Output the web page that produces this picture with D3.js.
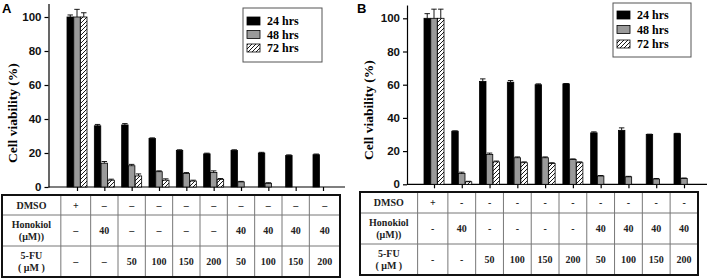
<!DOCTYPE html>
<html>
<head>
<meta charset="utf-8">
<script src="https://cdn.jsdelivr.net/npm/d3@7/dist/d3.min.js"></script>
<style>
  html, body { margin: 0; padding: 0; background: #fff; }
  svg { display: block; }
</style>
</head>
<body>
<svg id="chart" width="709" height="279"></svg>
<script>
// ---------------- DATA ----------------
const categories = ["DMSO", "Hon 40", "5-FU 50", "5-FU 100", "5-FU 150", "5-FU 200",
                    "Hon+5-FU 50", "Hon+5-FU 100", "Hon+5-FU 150", "Hon+5-FU 200"];
const seriesNames = ["24 hrs", "48 hrs", "72 hrs"];
const yTicks = [0, 20, 40, 60, 80, 100];

// Panel A
const a24 = [100, 36, 36.5, 28.5, 21.5, 19.5, 21.5, 20, 18.5, 19];
const a48 = [100, 14, 12.5, 9, 8, 8.5, 3, 2.2, 0, 0];
const a72 = [100, 4, 6.5, 4, 3.5, 4.5, 0, 0, 0, 0];
const aErr24 = [1.2, 0.8, 0.8, 0.4, 0.4, 0.4, 0.4, 0.4, 0.4, 0.4];
const aErr48 = [4.5, 1, 0.8, 0.5, 0.5, 1, 0.3, 0.3, 0, 0];
const aErr72 = [2.5, 0.6, 1.2, 0.8, 0.5, 0.5, 0, 0, 0, 0];

// Panel B
const b24 = [100, 32, 62, 61.5, 60, 60.5, 31, 32.5, 30, 30.5];
const b48 = [100, 6.5, 18, 16, 16, 15, 5, 4.5, 3.2, 3.5];
const b72 = [100, 1.5, 13.5, 13, 12.5, 13, 0, 0, 0, 0];
const bErr24 = [2.8, 0.2, 1.5, 1, 0.5, 0.2, 0.6, 1.5, 0.2, 0.2];
const bErr48 = [5.5, 0.8, 0.8, 0.5, 0.5, 0.3, 0.3, 0.3, 0.3, 0.3];
const bErr72 = [5.5, 0.3, 0.5, 0.5, 0.5, 0.5, 0, 0, 0, 0];

// Table rows
const rowLabels = [["DMSO"], ["Honokiol", "(μM))"], ["5-FU", "( μM )"]];
const dmsoA = ["+", "–", "–", "–", "–", "–", "–", "–", "–", "–"];
const honA  = ["–", "40", "–", "–", "–", "–", "40", "40", "40", "40"];
const fuA   = ["–", "–", "50", "100", "150", "200", "50", "100", "150", "200"];
const dmsoB = ["+", "-", "-", "-", "-", "-", "-", "-", "-", "-"];
const honB  = ["-", "40", "-", "-", "-", "-", "40", "40", "40", "40"];
const fuB   = ["-", "-", "50", "100", "150", "200", "50", "100", "150", "200"];

// ---------------- DRAWING ----------------
const svg = d3.select("#chart");
const SERIF = "'Liberation Serif', 'Times New Roman', serif";
const SANS = "'Liberation Sans', Arial, sans-serif";

const defs = svg.append("defs");
const pat = defs.append("pattern")
  .attr("id", "hatch").attr("patternUnits", "userSpaceOnUse")
  .attr("width", 4).attr("height", 4);
pat.append("rect").attr("width", 4).attr("height", 4).attr("fill", "#fff");
pat.append("path").attr("d", "M-1,1 l2,-2 M0,4 l4,-4 M3,5 l2,-2")
  .attr("stroke", "#000").attr("stroke-width", 0.9);

const fills = ["#000", "#9a9a9a", "url(#hatch)"];

function drawPanel(cfg) {
  const g = svg.append("g");
  const y = d3.scaleLinear().domain([0, 108]).range([cfg.y0, cfg.y0 - 108 * cfg.pxPerUnit]);
  const x = d3.scalePoint().domain(categories).range([cfg.xFirst, cfg.xLast]);
  const sub = d3.scaleBand().domain(seriesNames).range([-cfg.groupW / 2, cfg.groupW / 2]).paddingInner(0.05);

  // panel letter
  g.append("text").attr("x", cfg.letterX).attr("y", 13)
    .attr("font-family", SANS).attr("font-weight", "bold").attr("font-size", 13)
    .text(cfg.letter);

  // y axis
  const ya = g.append("g").attr("transform", `translate(${cfg.axisX},0)`)
    .call(d3.axisLeft(y).tickValues(yTicks).tickSize(4).tickSizeOuter(0).tickPadding(3));
  ya.select(".domain").attr("stroke", "#000").attr("stroke-width", 1.2);
  ya.selectAll(".tick line").attr("stroke", "#000").attr("stroke-width", 1.2);
  ya.selectAll(".tick text").attr("font-family", SANS).attr("font-weight", "bold")
    .attr("font-size", 11.5).attr("fill", "#111");

  // y label
  g.append("text")
    .attr("transform", `translate(${cfg.labelX},${cfg.labelY}) rotate(-90)`)
    .attr("text-anchor", "middle")
    .attr("font-family", SERIF).attr("font-weight", "bold").attr("font-size", 13.5)
    .text("Cell viability (%)");

  // x axis
  const xa = g.append("g").attr("transform", `translate(0,${cfg.y0})`)
    .call(d3.axisBottom(x).tickSize(4).tickSizeOuter(0).tickFormat(""));
  xa.select(".domain").remove();
  xa.selectAll(".tick line").attr("stroke", "#000").attr("stroke-width", 1.2);
  g.append("line").attr("x1", cfg.axisX).attr("x2", cfg.axisEnd)
    .attr("y1", cfg.y0).attr("y2", cfg.y0).attr("stroke", "#000").attr("stroke-width", 1.2);

  // bars
  cfg.values.forEach((vals, si) => {
    const sname = seriesNames[si];
    const errs = cfg.errors[si];
    const bg = g.append("g");
    categories.forEach((c, i) => {
      const v = vals[i];
      if (v <= 0) return;
      const bx = x(c) + sub(sname);
      const bw = sub.bandwidth();
      bg.append("rect")
        .attr("x", bx).attr("y", y(v))
        .attr("width", bw).attr("height", y(0) - y(v))
        .attr("fill", fills[si]).attr("stroke", "#000").attr("stroke-width", 0.8);
      const e = errs[i];
      if (e > 0) {
        const cx = bx + bw / 2;
        bg.append("line").attr("x1", cx).attr("x2", cx)
          .attr("y1", y(v)).attr("y2", y(v + e)).attr("stroke", "#000").attr("stroke-width", 0.9);
        bg.append("line").attr("x1", cx - bw / 2 + 0.5).attr("x2", cx + bw / 2 - 0.5)
          .attr("y1", y(v + e)).attr("y2", y(v + e)).attr("stroke", "#000").attr("stroke-width", 0.9);
      }
    });
  });

  // legend
  const L = cfg.legend;
  g.append("rect").attr("x", L.x).attr("y", L.y).attr("width", L.w).attr("height", L.h)
    .attr("fill", "#fff").attr("stroke", "#555").attr("stroke-width", 1);
  seriesNames.forEach((s, i) => {
    const ry = L.y + L.firstRow + i * L.rowGap;
    g.append("rect").attr("x", L.x + 4).attr("y", ry - 4).attr("width", 13).attr("height", 8)
      .attr("fill", fills[i]).attr("stroke", "#000").attr("stroke-width", 0.8);
    g.append("text").attr("x", L.x + 24).attr("y", ry + 4)
      .attr("font-family", SERIF).attr("font-weight", "bold").attr("font-size", 12)
      .text(s);
  });

  // table
  const T = cfg.table;
  const step = x.step();
  const colEdges = [T.left, cfg.xFirst - step / 2 - T.firstExtra];
  categories.forEach((c, i) => {
    if (i < categories.length - 1) colEdges.push(x(c) + step / 2);
  });
  colEdges.push(T.right);
  const tg = g.append("g");
  // inner horizontal lines
  T.rows.slice(1, -1).forEach(ry => {
    tg.append("line").attr("x1", T.left).attr("x2", T.right).attr("y1", ry).attr("y2", ry)
      .attr("stroke", "#777").attr("stroke-width", 1);
  });
  colEdges.slice(1, -1).forEach(cx => {
    tg.append("line").attr("x1", cx).attr("x2", cx).attr("y1", T.rows[0]).attr("y2", T.rows[T.rows.length - 1])
      .attr("stroke", "#777").attr("stroke-width", 1);
  });
  tg.append("rect").attr("x", T.left).attr("y", T.rows[0])
    .attr("width", T.right - T.left).attr("height", T.rows[T.rows.length - 1] - T.rows[0])
    .attr("fill", "none").attr("stroke", "#111").attr("stroke-width", 2);

  const rowsData = cfg.tableRows;
  rowLabels.forEach((lines, r) => {
    const top = T.rows[r], bot = T.rows[r + 1];
    const mid = (top + bot) / 2;
    const hx = (colEdges[0] + colEdges[1]) / 2;
    lines.forEach((ln, k) => {
      const off = lines.length === 1 ? 0 : (k === 0 ? -6 : 6);
      tg.append("text").attr("x", hx).attr("y", mid + off + 3.5)
        .attr("text-anchor", "middle")
        .attr("font-family", SERIF).attr("font-weight", "bold").attr("font-size", 10)
        .attr("fill", "#222").text(ln);
    });
    rowsData[r].forEach((v, i) => {
      const cx = (colEdges[i + 1] + colEdges[i + 2]) / 2;
      tg.append("text").attr("x", cx).attr("y", mid + 3.5)
        .attr("text-anchor", "middle")
        .attr("font-family", SERIF).attr("font-weight", "bold").attr("font-size", 10)
        .attr("fill", "#222").text(v);
    });
  });
}

drawPanel({
  letter: "A", letterX: 2,
  axisX: 48.5, axisEnd: 345, y0: 187, pxPerUnit: 1.7,
  xFirst: 77, xLast: 323, groupW: 20,
  labelX: 17, labelY: 113,
  values: [a24, a48, a72], errors: [aErr24, aErr48, aErr72],
  legend: { x: 243, y: 8, w: 79, h: 54, firstRow: 13, rowGap: 13.5 },
  table: { left: 2, right: 340, rows: [195, 215, 246, 277], firstExtra: 2.5 },
  tableRows: [dmsoA, honA, fuA]
});

drawPanel({
  letter: "B", letterX: 357,
  axisX: 407, axisEnd: 707, y0: 184.3, pxPerUnit: 1.66,
  xFirst: 434, xLast: 684, groupW: 20,
  labelX: 373, labelY: 110,
  values: [b24, b48, b72], errors: [bErr24, bErr48, bErr72],
  legend: { x: 613, y: 3, w: 78, h: 54, firstRow: 12, rowGap: 14.5 },
  table: { left: 360, right: 698, rows: [192, 213, 244, 275], firstExtra: 2.5 },
  tableRows: [dmsoB, honB, fuB]
});
</script>
</body>
</html>
